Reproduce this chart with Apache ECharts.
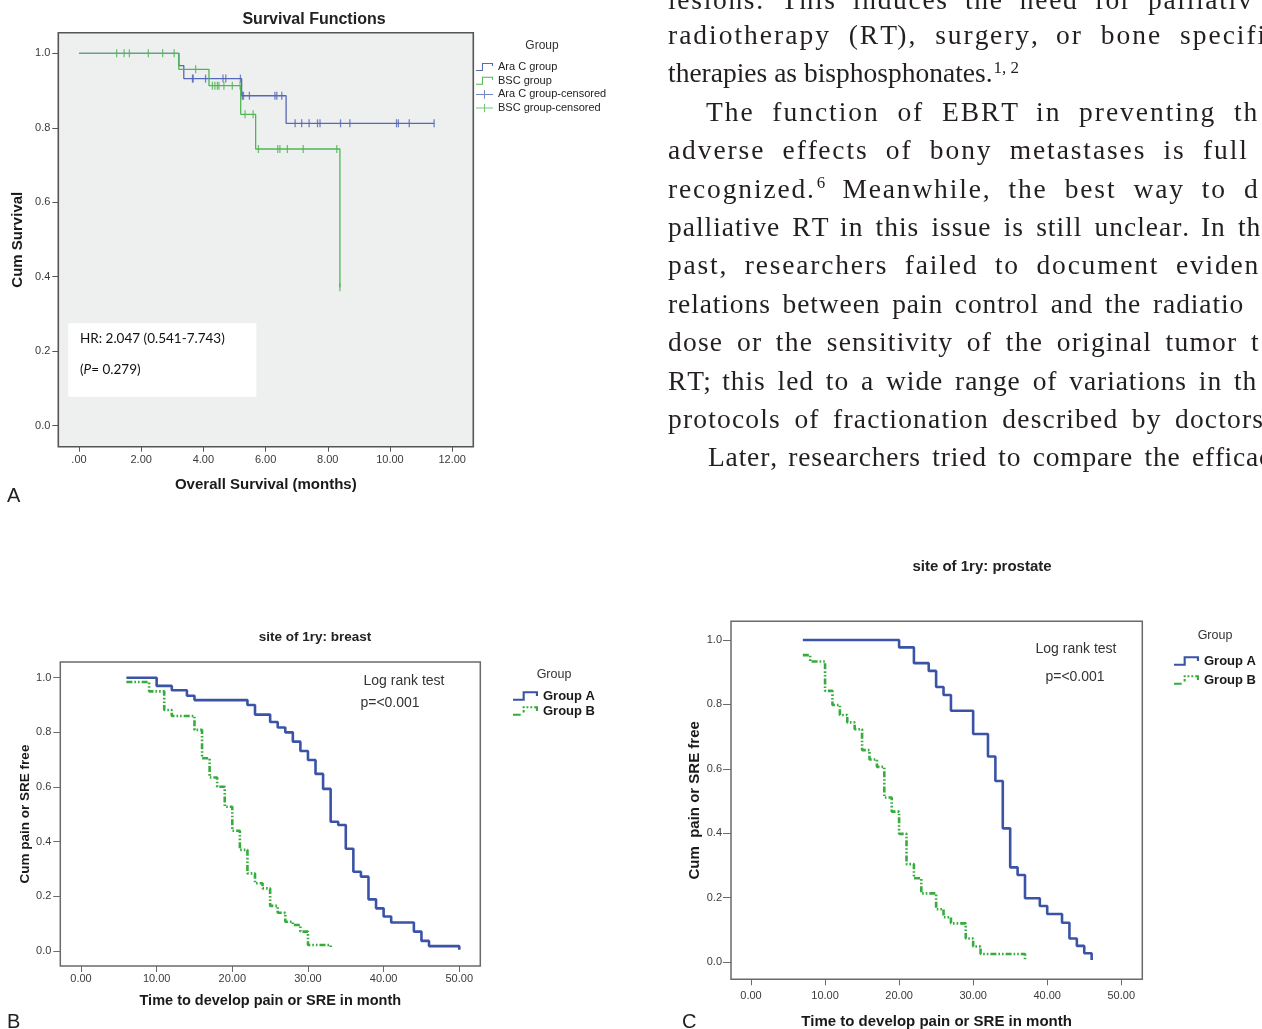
<!DOCTYPE html>
<html><head><meta charset="utf-8">
<script src="https://cdn.jsdelivr.net/npm/echarts@6/dist/echarts.min.js"></script>
<style>html,body{margin:0;padding:0;background:#fff}#c{width:1262px;height:1029px}</style>
</head><body><div id="c"></div>
<script>
// ---------------- data ----------------
const aXTicks = [0, 2, 4, 6, 8, 10, 12];
const bcXTicks = [0, 10, 20, 30, 40, 50];
const yTicks = [0, 0.2, 0.4, 0.6, 0.8, 1.0];

// Panel A: Kaplan-Meier steps (time, survival after the step)
const araCTime = [0, 3.21, 3.37, 5.23, 6.66, 11.42];
const araCSurv = [1, 0.967, 0.932, 0.886, 0.812, 0.812];
const bscTime = [0, 3.21, 4.18, 5.2, 5.68, 8.39];
const bscSurv = [1, 0.957, 0.913, 0.836, 0.743, 0.372];
// censored observation times
const araCCensored = [3.65, 3.67, 4.07, 4.63, 4.72, 5.19, 5.25, 5.29, 5.48, 6.3, 6.36, 6.52,
  6.95, 7.16, 7.40, 7.67, 7.75, 8.41, 8.71, 10.21, 10.27, 10.62, 11.42];
const bscCensored = [1.21, 1.45, 1.62, 2.23, 2.69, 3.06, 3.75, 4.29, 4.37, 4.45, 4.5, 4.66, 4.93, 5.18,
  5.34, 5.6, 5.77, 6.39, 6.46, 6.7, 7.21, 8.29, 8.39];

// Panel B: breast
const breastATime = [6, 10, 12, 14, 15, 22, 23, 25, 26, 27, 28, 29, 30, 31, 32, 33, 34, 35, 36, 37, 38, 39, 40, 41, 44, 45, 46, 50];
const breastASurv = [1.0, 0.97, 0.954, 0.934, 0.918, 0.9, 0.865, 0.838, 0.818, 0.8, 0.766, 0.732, 0.699, 0.648, 0.593, 0.473, 0.461, 0.374, 0.29, 0.272, 0.189, 0.156, 0.126, 0.104, 0.071, 0.037, 0.018, 0.005];
const breastBTime = [6, 9, 11, 12, 15, 16, 17, 18, 19, 20, 21, 22, 23, 24, 25, 26, 27, 28, 29, 30, 33];
const breastBSurv = [0.984, 0.95, 0.882, 0.86, 0.809, 0.705, 0.635, 0.601, 0.528, 0.44, 0.37, 0.284, 0.248, 0.229, 0.165, 0.14, 0.107, 0.095, 0.071, 0.022, 0.01];

// Panel C: prostate
const prostateATime = [7, 20, 22, 24, 25, 26, 27, 30, 32, 33, 34, 35, 36, 37, 39, 40, 42, 43, 44, 45, 46];
const prostateASurv = [1.0, 0.977, 0.928, 0.904, 0.854, 0.829, 0.78, 0.708, 0.638, 0.562, 0.415, 0.294, 0.27, 0.198, 0.174, 0.149, 0.122, 0.073, 0.05, 0.027, 0.006];
const prostateBTime = [7, 8, 10, 11, 12, 13, 14, 15, 16, 17, 18, 19, 20, 21, 22, 23, 25, 26, 27, 29, 30, 31, 37];
const prostateBSurv = [0.953, 0.933, 0.842, 0.798, 0.767, 0.744, 0.723, 0.658, 0.629, 0.606, 0.511, 0.467, 0.398, 0.304, 0.26, 0.213, 0.164, 0.139, 0.12, 0.073, 0.048, 0.025, 0.006];

// body text (right column), '§' marks a superscript
const bodyText = [
  'lesions. This induces the need for palliativ',
  'radiotherapy (RT), surgery, or bone specifi',
  'therapies as bisphosphonates.§1,\u00a02',
  'The function of EBRT in preventing th',
  'adverse effects of bony metastases is full',
  'recognized.§6 Meanwhile, the best way to d',
  'palliative RT in this issue is still unclear. In th',
  'past, researchers failed to document eviden',
  'relations between pain control and the radiatio',
  'dose or the sensitivity of the original tumor t',
  'RT; this led to a wide range of variations in th',
  'protocols of fractionation described by doctors',
  'Later, researchers tried to compare the efficac'
];
// layout: [start x, start x of last word (null = natural spacing)]
const bodyLayout = [
  [668, 1148], [668, 1180], [668, null], [706, 1234], [668, 1203], [668, 1244], [668, 1238],
  [668, 1176], [668, 1153], [668, 1251], [668, 1234], [668, 1175], [708, 1192]
];

// ---------------- helpers ----------------
const SANS = '"Liberation Sans", Arial, sans-serif';
const SERIF = '"Liberation Serif", "Times New Roman", serif';
const pairs = (t, s) => t.map((v, i) => [v, s[i]]);
const stepAt = (times, survs, t) => { let v = survs[0]; for (let i = 0; i < times.length; i++) if (t >= times[i]) v = survs[i]; return v; };

const blueA = '#5567b8', greenA = '#4fb654';
const blueB = '#3a53a6', greenB = '#35ac3c';
const frameA = '#555', frameB = '#6a6a6a';

function txt(x, y, text, font, align, extra) {
  return Object.assign({ type: 'text', x: x, y: y, silent: true, z: 10,
    style: Object.assign({ text: text, font: font, fill: '#222', textAlign: align || 'center', textVerticalAlign: 'middle' }, extra || {}) });
}

// justified body text: extra space goes into letter spacing and (K times more) word spacing
function bodyGraphics() {
  const fs = 27.5, supFs = 17, K = 4.5;
  const font = fs + 'px ' + SERIF, supFont = supFs + 'px ' + SERIF;
  const ctx = document.createElement('canvas').getContext('2d');
  const meas = (s, f) => { ctx.font = f; return ctx.measureText(s).width; };
  const spaceW = meas(' ', font);
  const out = [];
  bodyText.forEach((line, li) => {
    const baseline = (li === 0 ? 10.6 : 7.6) + 38.4 * li;
    const yMid = baseline - 0.3375 * fs;
    const words = line.split(' ').map(w => { const p = w.split('§'); return { main: p[0], sup: p[1] || '' }; });
    const nat = words.map(w => meas(w.main, font) + (w.sup ? 1 + meas(w.sup, supFont) : 0));
    const lens = words.map(w => w.main.length);
    const x0 = bodyLayout[li][0], xl = bodyLayout[li][1];
    let ls = 0;
    const n = words.length;
    if (xl != null && n > 1) {
      let sumNat = 0, sumLen = 0;
      for (let i = 0; i < n - 1; i++) { sumNat += nat[i]; sumLen += lens[i]; }
      const E = xl - x0 - sumNat - (n - 1) * spaceW;
      ls = E / (sumLen + (n - 1) * (1 + K));
    }
    const ws = K * ls;
    let x = x0;
    words.forEach((w, i) => {
      for (let j = 0; j < w.main.length; j++) {
        const cx = x + meas(w.main.slice(0, j), font) + ls * j;
        out.push(txt(cx, yMid, w.main[j], font, 'left', { fill: '#231f20' }));
      }
      if (w.sup) {
        const sx = x + meas(w.main, font) + ls * w.main.length + 1;
        out.push(txt(sx, baseline - 10.5 - 0.3375 * supFs, w.sup, supFont, 'left', { fill: '#231f20' }));
      }
      x += nat[i] + ls * lens[i] + spaceW + ls + ws;
    });
  });
  return out;
}

// legend icon paths
const stepIconThin = 'path://M0,8.6L7,8.6L7,0.4L20,0.4L20,4L18.8,4L18.8,1.6L8.2,1.6L8.2,9.8L0,9.8Z';
const plusIcon = 'path://M0,4.4L9.4,4.4L9.4,0L10.6,0L10.6,4.4L20,4.4L20,5.6L10.6,5.6L10.6,10L9.4,10L9.4,5.6L0,5.6Z';
const stepIconA = 'path://M0,7.8L10,7.8L10,0L26,0L26,5L23.8,5L23.8,2.2L12.2,2.2L12.2,10L0,10Z';
const stepIconB = 'path://M0,7.8L8,7.8L8,10L0,10Z M10,4L12.2,4L12.2,6.5L10,6.5Z M10,0L12.2,0L12.2,2.2L10,2.2Z M14,0L16,0L16,2.2L14,2.2Z M18,0L20,0L20,2.2L18,2.2Z M22,0L26,0L26,5L23.8,5L23.8,2.2L22,2.2Z';

function xAxisCfg(gi, min, max, ticks, fmt, name, gap, nameFs, tickLen, margin, frame) {
  return {
    gridIndex: gi, type: 'value', min: min, max: max,
    axisLine: { show: false, onZero: false }, splitLine: { show: false },
    axisTick: { show: true, customValues: ticks, length: tickLen, lineStyle: { color: frame, width: 1 } },
    axisLabel: { customValues: ticks, formatter: fmt, margin: margin, fontSize: 11, color: '#3a3a3a', fontFamily: SANS },
    name: name, nameLocation: 'middle', nameGap: gap,
    nameTextStyle: { fontWeight: 'bold', fontSize: nameFs, color: '#1a1a1a', fontFamily: SANS }
  };
}
function yAxisCfg(gi, min, max, name, gap, nameFs, tickLen, margin, frame) {
  return {
    gridIndex: gi, type: 'value', min: min, max: max,
    axisLine: { show: false, onZero: false }, splitLine: { show: false },
    axisTick: { show: true, customValues: yTicks, length: tickLen, lineStyle: { color: frame, width: 1 } },
    axisLabel: { customValues: yTicks, formatter: v => v.toFixed(1), margin: margin, fontSize: 11, color: '#3a3a3a', fontFamily: SANS },
    name: name, nameLocation: 'middle', nameGap: gap, nameRotate: 90,
    nameTextStyle: { fontWeight: 'bold', fontSize: nameFs, color: '#1a1a1a', fontFamily: SANS }
  };
}

const chart = echarts.init(document.getElementById('c'), null, { renderer: 'canvas' });
const option = {
  backgroundColor: '#ffffff',
  animation: false,
  textStyle: { fontFamily: SANS },
  grid: [
    { left: 58.3, top: 32.7, width: 415, height: 414, show: true, backgroundColor: '#eef0ef', borderColor: frameA, borderWidth: 1.6, outerBoundsMode: 'none', containLabel: false },
    { left: 60.3, top: 662, width: 420, height: 304, show: true, backgroundColor: '#ffffff', borderColor: frameB, borderWidth: 1.5, outerBoundsMode: 'none', containLabel: false },
    { left: 731, top: 621.3, width: 411.3, height: 358, show: true, backgroundColor: '#ffffff', borderColor: frameB, borderWidth: 1.5, outerBoundsMode: 'none', containLabel: false }
  ],
  xAxis: [
    xAxisCfg(0, -0.666, 12.68, aXTicks, v => v === 0 ? '.00' : v.toFixed(2), 'Overall Survival (months)', 31, 15, 5, 8, frameA),
    xAxisCfg(1, -2.736, 52.78, bcXTicks, v => v.toFixed(2), 'Time to develop pain or SRE in month', 27, 14.5, 6, 7, frameB),
    xAxisCfg(2, -2.70, 52.84, bcXTicks, v => v.toFixed(2), 'Time to develop pain or SRE in month', 35, 15, 6, 11, frameB)
  ],
  yAxis: [
    yAxisCfg(0, -0.0564, 1.0553, 'Cum Survival', 33, 15, 6, 8, frameA),
    yAxisCfg(1, -0.0549, 1.0574, 'Cum pain or SRE free', 28.5, 13.5, 7, 9, frameB),
    yAxisCfg(2, -0.0537, 1.058, 'Cum  pain or SRE free', 27.5, 15, 8, 9, frameB)
  ],
  legend: [
    { orient: 'vertical', left: 476, top: 61.5, padding: 0, itemWidth: 17, itemHeight: 9, itemGap: 2.7, selectedMode: false,
      textStyle: { fontSize: 11, color: '#222', fontFamily: SANS, lineHeight: 11 }, itemStyle: { borderWidth: 0 },
      data: [{ name: 'Ara C group', icon: stepIconThin }, { name: 'BSC group', icon: stepIconThin },
             { name: 'Ara C group-censored', icon: plusIcon }, { name: 'BSC group-censored', icon: plusIcon }] },
    { orient: 'vertical', left: 513, top: 689.5, padding: 0, itemWidth: 25, itemHeight: 10, itemGap: 2, selectedMode: false,
      textStyle: { fontSize: 13, fontWeight: 'bold', color: '#1a1a1a', fontFamily: SANS, lineHeight: 13 }, itemStyle: { borderWidth: 0 },
      data: [{ name: 'Group A', icon: stepIconA }, { name: 'Group B', icon: stepIconB }] },
    { orient: 'vertical', left: 1174, top: 654.5, padding: 0, itemWidth: 25, itemHeight: 10, itemGap: 6, selectedMode: false,
      textStyle: { fontSize: 13, fontWeight: 'bold', color: '#1a1a1a', fontFamily: SANS, lineHeight: 13 }, itemStyle: { borderWidth: 0 },
      data: [{ name: 'Group A', icon: stepIconA }, { name: 'Group B', icon: stepIconB }] }
  ],
  series: [
    { name: 'Ara C group', type: 'line', xAxisIndex: 0, yAxisIndex: 0, step: 'end', symbol: 'none', silent: true, color: blueA,
      lineStyle: { width: 1.3, color: blueA }, data: pairs(araCTime, araCSurv), z: 3 },
    { name: 'Ara C group-censored', type: 'scatter', xAxisIndex: 0, yAxisIndex: 0, symbol: 'rect', symbolSize: [1.3, 8], silent: true, color: blueA,
      itemStyle: { color: blueA }, data: araCCensored.map(t => [t, stepAt(araCTime, araCSurv, t)]), z: 4 },
    { name: 'BSC group', type: 'line', xAxisIndex: 0, yAxisIndex: 0, step: 'end', symbol: 'none', silent: true, color: greenA,
      lineStyle: { width: 1.3, color: greenA }, data: pairs(bscTime, bscSurv), z: 5 },
    { name: 'BSC group-censored', type: 'scatter', xAxisIndex: 0, yAxisIndex: 0, symbol: 'rect', symbolSize: [1.3, 8], silent: true, color: greenA,
      itemStyle: { color: greenA }, data: bscCensored.map(t => [t, stepAt(bscTime, bscSurv, t)]), z: 6 },

    { name: 'Group A', type: 'line', xAxisIndex: 1, yAxisIndex: 1, step: 'end', symbol: 'none', silent: true, color: blueB,
      lineStyle: { width: 2.6, color: blueB }, data: pairs(breastATime, breastASurv), z: 3 },
    { name: 'Group B', type: 'line', xAxisIndex: 1, yAxisIndex: 1, step: 'end', symbol: 'none', silent: true, color: greenB,
      lineStyle: { width: 2.6, color: greenB, type: [6, 2, 1.6, 2, 1.6, 2] }, data: pairs(breastBTime, breastBSurv), z: 4 },
    { name: 'Group A', type: 'line', xAxisIndex: 2, yAxisIndex: 2, step: 'end', symbol: 'none', silent: true, color: blueB,
      lineStyle: { width: 2.6, color: blueB }, data: pairs(prostateATime, prostateASurv), z: 3 },
    { name: 'Group B', type: 'line', xAxisIndex: 2, yAxisIndex: 2, step: 'end', symbol: 'none', silent: true, color: greenB,
      lineStyle: { width: 2.6, color: greenB, type: [6, 2, 1.6, 2, 1.6, 2] }, data: pairs(prostateBTime, prostateBSurv), z: 4 }
  ],
  graphic: {
    elements: [
      txt(314, 20, 'Survival Functions', 'bold 16px ' + SANS),
      txt(542, 46, 'Group', '12px ' + SANS, 'center', { fill: '#333' }),
      { type: 'rect', shape: { x: 68.3, y: 323.3, width: 188, height: 73.4 }, style: { fill: '#ffffff' }, z: 1, silent: true },
      txt(80, 339, 'HR: 2.047 (0.541-7.743)', '13.5px Lato, ' + SANS, 'left', { fill: '#111' }),
      txt(80, 370, '({i|P}= 0.279)', '13.5px Lato, ' + SANS, 'left', { fill: '#111', rich: { i: { fontStyle: 'italic', fontFamily: 'Lato', fontSize: 13.5, fill: '#111' } } }),
      txt(7, 496, 'A', '20px ' + SANS, 'left', { fill: '#222' }),

      txt(315, 637, 'site of 1ry: breast', 'bold 13.5px ' + SANS),
      txt(404, 681, 'Log rank test', '14px ' + SANS, 'center', { fill: '#333' }),
      txt(390, 703, 'p=<0.001', '14px ' + SANS, 'center', { fill: '#333' }),
      txt(554, 675, 'Group', '12.5px ' + SANS, 'center', { fill: '#333' }),
      txt(7, 1022, 'B', '20px ' + SANS, 'left', { fill: '#222' }),

      txt(982, 567, 'site of 1ry: prostate', 'bold 15px ' + SANS),
      txt(1076, 649, 'Log rank test', '14px ' + SANS, 'center', { fill: '#333' }),
      txt(1075, 677, 'p=<0.001', '14px ' + SANS, 'center', { fill: '#333' }),
      txt(1215, 636, 'Group', '12.5px ' + SANS, 'center', { fill: '#333' }),
      txt(682, 1022, 'C', '20px ' + SANS, 'left', { fill: '#222' })
    ].concat(bodyGraphics())
  }
};
chart.setOption(option);
</script>
</body></html>
